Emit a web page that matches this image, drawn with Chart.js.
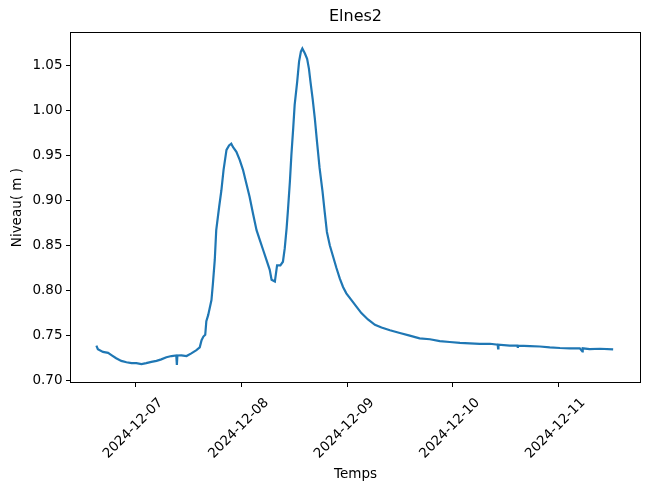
<!DOCTYPE html>
<html>
<head>
<meta charset="utf-8">
<script src="https://cdn.jsdelivr.net/npm/chart.js@4.4.1/dist/chart.umd.min.js"></script>
<style>
  html, body { margin: 0; padding: 0; background: #fff; }
  #wrap { width: 649px; height: 489px; }
</style>
</head>
<body>
<div id="wrap"><canvas id="niveau" width="649" height="489"></canvas></div>
<script>
// water level readings
const times = [
  "2024-12-06 15:00", "2024-12-06 15:20", "2024-12-06 16:30", "2024-12-06 17:40", "2024-12-06 18:25",
  "2024-12-06 19:30", "2024-12-06 20:40", "2024-12-06 21:50", "2024-12-06 23:00", "2024-12-07 00:05",
  "2024-12-07 01:15", "2024-12-07 02:20", "2024-12-07 03:30", "2024-12-07 04:40", "2024-12-07 05:45",
  "2024-12-07 06:55", "2024-12-07 08:05", "2024-12-07 09:10", "2024-12-07 09:18", "2024-12-07 09:25",
  "2024-12-07 10:20", "2024-12-07 11:30", "2024-12-07 12:35", "2024-12-07 13:45", "2024-12-07 14:30",
  "2024-12-07 14:55", "2024-12-07 15:20", "2024-12-07 15:45", "2024-12-07 16:00", "2024-12-07 16:25",
  "2024-12-07 17:10", "2024-12-07 17:30", "2024-12-07 17:55", "2024-12-07 18:15", "2024-12-07 18:55",
  "2024-12-07 19:25", "2024-12-07 19:55", "2024-12-07 20:35", "2024-12-07 21:10", "2024-12-07 21:40",
  "2024-12-07 22:05", "2024-12-07 22:50", "2024-12-07 23:35", "2024-12-08 00:20", "2024-12-08 01:05",
  "2024-12-08 01:50", "2024-12-08 02:35", "2024-12-08 03:25", "2024-12-08 04:10", "2024-12-08 04:55",
  "2024-12-08 05:40", "2024-12-08 06:25", "2024-12-08 06:50", "2024-12-08 07:35", "2024-12-08 08:05",
  "2024-12-08 08:50", "2024-12-08 09:25", "2024-12-08 09:50", "2024-12-08 10:15", "2024-12-08 10:35",
  "2024-12-08 11:00", "2024-12-08 11:20", "2024-12-08 11:45", "2024-12-08 12:05", "2024-12-08 12:40",
  "2024-12-08 13:05", "2024-12-08 13:30", "2024-12-08 13:50", "2024-12-08 14:25", "2024-12-08 14:55",
  "2024-12-08 15:20", "2024-12-08 15:40", "2024-12-08 16:10", "2024-12-08 16:40", "2024-12-08 17:10",
  "2024-12-08 17:45", "2024-12-08 18:25", "2024-12-08 18:55", "2024-12-08 19:25", "2024-12-08 20:05",
  "2024-12-08 20:50", "2024-12-08 21:35", "2024-12-08 22:20", "2024-12-08 23:05", "2024-12-08 23:50",
  "2024-12-09 01:00", "2024-12-09 02:10", "2024-12-09 03:15", "2024-12-09 04:45", "2024-12-09 06:20",
  "2024-12-09 07:50", "2024-12-09 09:45", "2024-12-09 12:00", "2024-12-09 14:15", "2024-12-09 16:30",
  "2024-12-09 18:50", "2024-12-09 21:05", "2024-12-09 23:20", "2024-12-10 01:40", "2024-12-10 03:55",
  "2024-12-10 06:10", "2024-12-10 08:30", "2024-12-10 10:15", "2024-12-10 10:20", "2024-12-10 10:25",
  "2024-12-10 13:00", "2024-12-10 14:45", "2024-12-10 14:50", "2024-12-10 14:55", "2024-12-10 17:35",
  "2024-12-10 19:50", "2024-12-10 22:05", "2024-12-11 00:25", "2024-12-11 02:40", "2024-12-11 04:55",
  "2024-12-11 05:30", "2024-12-11 05:35", "2024-12-11 07:10", "2024-12-11 09:30", "2024-12-11 12:30"
];
const levels = [
  0.739, 0.735, 0.732, 0.731, 0.7285,
  0.725, 0.722, 0.7205, 0.7195, 0.7195,
  0.7185, 0.7195, 0.721, 0.722, 0.7237,
  0.726, 0.7274, 0.728, 0.7175, 0.728,
  0.7282, 0.7274, 0.7304, 0.734, 0.737,
  0.745, 0.749, 0.751, 0.766, 0.7728,
  0.7895, 0.808, 0.834, 0.867, 0.893,
  0.911, 0.934, 0.956, 0.961, 0.963,
  0.959, 0.954, 0.945, 0.934, 0.919,
  0.904, 0.886, 0.867, 0.856, 0.845,
  0.834, 0.823, 0.812, 0.810, 0.828,
  0.828, 0.832, 0.847, 0.869, 0.891,
  0.921, 0.950, 0.980, 1.006, 1.032,
  1.054, 1.065, 1.0685, 1.063, 1.057,
  1.046, 1.032, 1.013, 0.991, 0.965,
  0.936, 0.910, 0.887, 0.865, 0.850,
  0.8375, 0.825, 0.8135, 0.804, 0.797,
  0.7895, 0.782, 0.775, 0.768, 0.762,
  0.759, 0.756, 0.753, 0.750, 0.747,
  0.746, 0.744, 0.743, 0.742, 0.7415,
  0.741, 0.741, 0.740, 0.736, 0.740,
  0.739, 0.739, 0.7365, 0.739, 0.7385,
  0.738, 0.737, 0.7363, 0.736, 0.736,
  0.7325, 0.736, 0.735, 0.7355, 0.7348
];
const xTickLabels = ["2024-12-07", "2024-12-08", "2024-12-09", "2024-12-10", "2024-12-11"];
const yTicks = [0.70, 0.75, 0.80, 0.85, 0.90, 0.95, 1.00, 1.05];

function toMs(s) {
  const parts = s.split(" ");
  const d = parts[0].split("-").map(Number);
  const t = (parts[1] || "00:00").split(":").map(Number);
  return Date.UTC(d[0], d[1] - 1, d[2], t[0], t[1]);
}

const font = { family: "DejaVu Sans", size: 13.5 };

// matplotlib style box round the plot
const frame = {
  id: "frame",
  afterDatasetsDraw(chart) {
    const a = chart.chartArea;
    const c = chart.ctx;
    c.save();
    c.strokeStyle = "#000";
    c.lineWidth = 1;
    c.strokeRect(Math.round(a.left) + 0.5, Math.round(a.top) + 0.5,
      Math.round(a.right - a.left) - 1, Math.round(a.bottom - a.top) - 1);
    c.restore();
  }
};

const ctx = document.getElementById("niveau").getContext("2d");
new Chart(ctx, {
  type: "line",
  data: {
    datasets: [{
      data: times.map((t, i) => ({ x: toMs(t), y: levels[i] })),
      borderColor: "#1f77b4",
      borderWidth: 2.2,
      pointRadius: 0,
      tension: 0,
      fill: false
    }]
  },
  options: {
    responsive: false,
    animation: false,
    devicePixelRatio: 1,
    layout: { padding: { top: 0, right: 8, bottom: 0, left: 0 } },
    plugins: {
      legend: { display: false },
      tooltip: { enabled: false },
      title: {
        display: true,
        text: "Elnes2",
        fullSize: false,
        color: "#000",
        font: { family: "DejaVu Sans", size: 16, weight: "normal" },
        padding: { top: 7, bottom: 6 }
      }
    },
    scales: {
      x: {
        type: "linear",
        min: toMs("2024-12-06 09:00"),
        max: toMs("2024-12-11 18:50"),
        afterBuildTicks: s => { s.ticks = xTickLabels.map(l => ({ value: toMs(l) })); },
        afterFit: s => { s.height = 106; },
        ticks: {
          autoSkip: false,
          minRotation: 45,
          maxRotation: 45,
          padding: 8,
          labelOffset: 25,
          color: "#000",
          font: font,
          callback: (v, i) => xTickLabels[i]
        },
        grid: { display: true, drawOnChartArea: false, tickLength: 4, color: "#000", tickColor: "#000" },
        border: { display: false },
        title: { display: true, text: "Temps", color: "#000", font: font, padding: { top: 0, bottom: 6 } }
      },
      y: {
        type: "linear",
        min: 0.6975,
        max: 1.0866,
        afterBuildTicks: s => { s.ticks = yTicks.map(v => ({ value: v })); },
        afterFit: s => { s.width = 70; },
        ticks: {
          autoSkip: false,
          padding: 3.5,
          color: "#000",
          font: font,
          callback: v => v.toFixed(2)
        },
        grid: { display: true, drawOnChartArea: false, tickLength: 4, color: "#000", tickColor: "#000" },
        border: { display: false },
        title: { display: true, text: "Niveau( m )", color: "#000", font: font, padding: { top: 9, bottom: 0 } }
      }
    }
  },
  plugins: [frame]
});
</script>
</body>
</html>
